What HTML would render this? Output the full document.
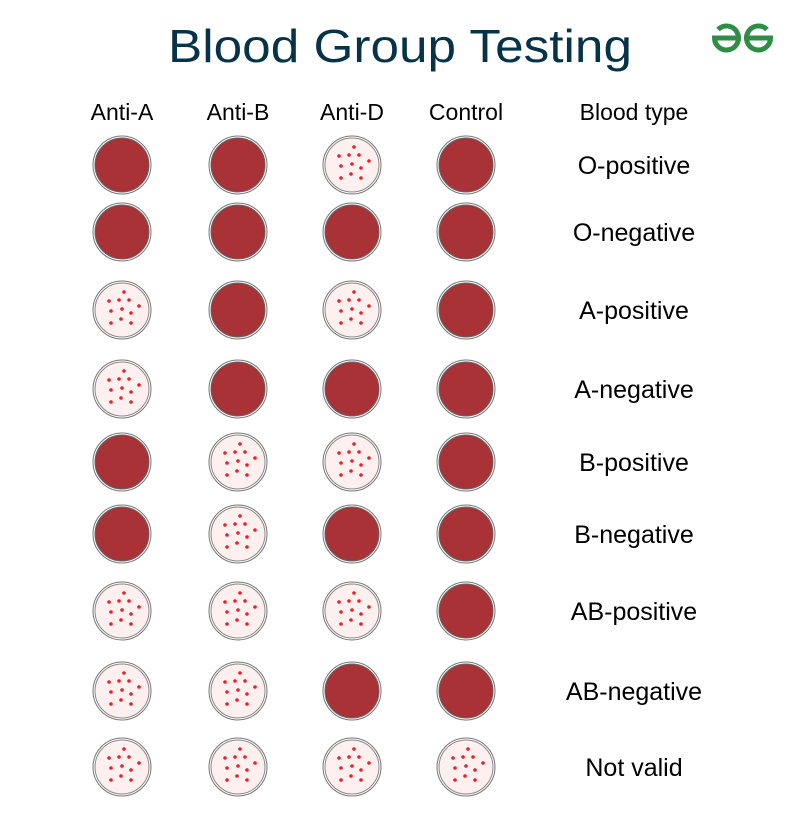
<!DOCTYPE html>
<html><head><meta charset="utf-8"><style>
html,body{margin:0;padding:0;background:#fff;}
svg{display:block;font-family:"Liberation Sans",sans-serif;}
</style></head><body>
<svg id="chart" width="800" height="832" viewBox="0 0 800 832">
<text x="400" y="62" text-anchor="middle" font-size="46" fill="#073349" textLength="464" lengthAdjust="spacingAndGlyphs">Blood Group Testing</text>
<g fill="none" stroke="#2f8d46" stroke-width="5">
<path d="M718 29.5 A12 12 0 1 1 714.5 38 H740"/>
<path d="M767 29.5 A12 12 0 1 0 770.5 38 H745"/>
</g>
<g id="headers"></g>
<g id="grid"></g>
</svg>
<script>
const columns=["Anti-A","Anti-B","Anti-D","Control"];
const bloodTypes=["O-positive","O-negative","A-positive","A-negative","B-positive","B-negative","AB-positive","AB-negative","Not valid"];
// 1 = agglutination (dots), 0 = solid
const reactions=[
[0,0,1,0],[0,0,0,0],[1,0,1,0],[1,0,0,0],[0,1,1,0],[0,1,0,0],[1,1,1,0],[1,1,0,0],[1,1,1,1]];
const colX=[122,238,352,466];
const rowY=[165,232,310,389,462,534,611,691,767];
const dots=[[2,-18],[-13,-9],[-3,-10],[7,-10],[17,-4],[-11,1],[0,-1],[9,3],[-1,9],[-11,13],[9,13]];
const NS="http://www.w3.org/2000/svg";
function mk(t,a,p){const e=document.createElementNS(NS,t);for(const k in a)e.setAttribute(k,a[k]);p.appendChild(e);return e;}
const hg=document.getElementById('headers');
columns.forEach((c,i)=>{
const t=mk('text',{x:colX[i],y:120,'text-anchor':'middle','font-size':23,fill:'#000'},hg);


t.textContent=c;
});
const bh=mk('text',{x:634,y:120,'text-anchor':'middle','font-size':23,fill:'#000'},hg);


bh.textContent="Blood type";
const g=document.getElementById('grid');
bloodTypes.forEach((b,r)=>{
const y=rowY[r];
columns.forEach((c,i)=>{
const x=colX[i];
const well=mk('g',{},g);


mk('circle',{cx:x,cy:y,r:29,fill:'#fff',stroke:'#777','stroke-width':1},well);
if(reactions[r][i]){
mk('circle',{cx:x,cy:y,r:27,fill:'#fff0f0',stroke:'#888','stroke-width':1},well);
dots.forEach(d=>mk('circle',{cx:x+d[0],cy:y+d[1],r:1.8,fill:'#e8202a'},well));
}else{
mk('circle',{cx:x,cy:y,r:27,fill:'#a83236',stroke:'#666','stroke-width':1},well);
}
});
const t=mk('text',{x:634,y:y+9,'text-anchor':'middle','font-size':25,fill:'#000'},g);


t.textContent=b;
});
</script>
</body></html>
